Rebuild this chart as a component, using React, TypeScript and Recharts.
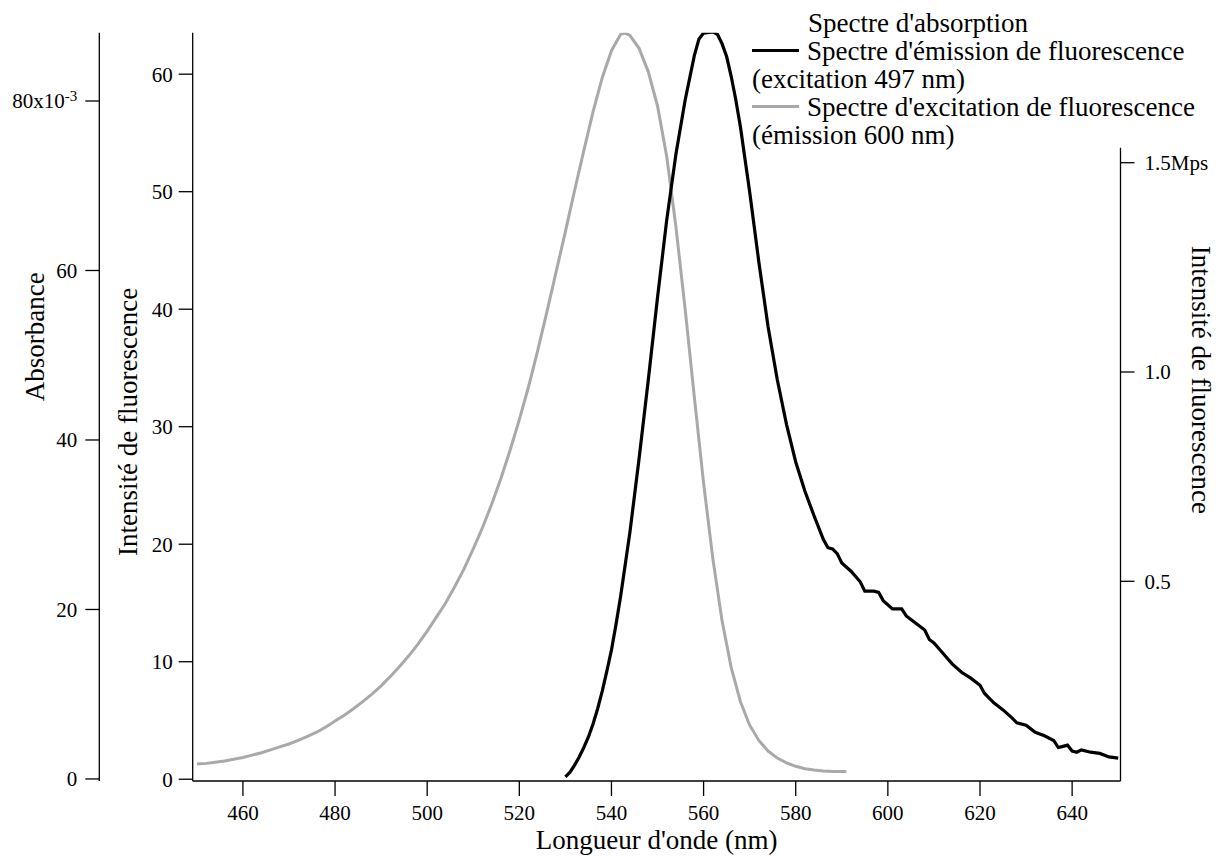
import React from "react";
import { LineChart, Line, XAxis, YAxis, ReferenceLine, Legend } from "recharts";

// excitation spectrum (émission 600 nm) — grey
const excitationNm = [
  450, 452, 454, 456, 458, 460, 462, 464, 466, 468, 470, 472, 474, 476, 478, 480,
  482, 484, 486, 488, 490, 492, 494, 496, 498, 500, 502, 504, 506, 508, 510, 512,
  514, 516, 518, 520, 522, 524, 526, 528, 530, 532, 534, 536, 538, 540, 542, 543,
  544, 546, 548, 550, 552, 554, 556, 558, 560, 562, 564, 566, 568, 570, 572, 574,
  576, 578, 580, 582, 584, 586, 588, 590, 591,
];
const excitationVal = [
  1.3, 1.35, 1.45, 1.55, 1.7, 1.85, 2.05, 2.25, 2.5, 2.75, 3.0, 3.3, 3.65, 4.0, 4.45, 4.95,
  5.45, 6.0, 6.6, 7.25, 7.95, 8.75, 9.6, 10.5, 11.5, 12.6, 13.8, 15.0, 16.4, 17.9, 19.6, 21.4,
  23.4, 25.6, 28.0, 30.6, 33.4, 36.5, 39.8, 43.2, 46.6, 50.1, 53.5, 56.8, 59.7, 62.0, 63.4, 63.5,
  63.3, 62.2, 60.2, 57.3, 53.0, 47.0, 40.0, 32.5, 25.2, 18.8, 13.5, 9.5, 6.6, 4.6, 3.3, 2.4,
  1.8, 1.4, 1.1, 0.9, 0.78, 0.7, 0.65, 0.65, 0.65,
];

// emission spectrum (excitation 497 nm) — black
const emissionNm = [
  530, 531, 532, 533, 534, 535, 536, 537, 538, 539, 540, 541, 542, 544, 546, 548,
  550, 552, 554, 556, 558, 559, 560, 562, 563, 564, 565, 566, 567, 568, 570, 572,
  574, 576, 578, 580, 582, 584, 586, 587, 588, 589, 590, 592, 594, 595, 597, 598,
  599, 601, 603, 604, 606, 608, 609, 610, 612, 614, 616, 618, 620, 621, 623, 625,
  627, 628, 630, 632, 634, 636, 637, 638, 639, 640, 641, 642, 644, 646, 648, 650,
];
const emissionVal = [
  0.2, 0.6, 1.2, 1.9, 2.7, 3.6, 4.7, 6.0, 7.5, 9.2, 11.0, 13.2, 15.6, 21.0, 27.3, 34.0,
  41.0, 47.6, 53.2, 57.8, 61.6, 63.0, 63.5, 63.6, 63.4, 62.6, 61.5, 59.8, 57.8, 55.5, 50.0, 44.0,
  38.5, 34.0, 30.2, 27.0, 24.5, 22.4, 20.4, 19.7, 19.6, 19.2, 18.4, 17.7, 16.8, 16.0, 16.0, 15.9,
  15.2, 14.5, 14.5, 13.9, 13.3, 12.7, 11.9, 11.6, 10.7, 9.8, 9.1, 8.6, 8.0, 7.3, 6.5, 5.9,
  5.2, 4.8, 4.6, 4.0, 3.7, 3.3, 2.7, 2.8, 2.9, 2.4, 2.3, 2.5, 2.3, 2.2, 1.9, 1.8,
];

const xTicks = [460, 480, 500, 520, 540, 560, 580, 600, 620, 640];
const fluoTicks = [0, 10, 20, 30, 40, 50, 60];
const absTicks = [0, 0.02, 0.04, 0.06, 0.08];
const rightTicks = [0.5, 1.0, 1.5];

const X_DOMAIN = [449.1, 650.5];
const FLUO_DOMAIN = [-0.15, 63.53];
const ABS_DOMAIN = [-0.00024, 0.08806];
const RIGHT_DOMAIN = [0.0229, 1.8106];
const RIGHT_AXIS_TOP = 1.536;

const excitation = excitationNm.map((nm, i) => ({ nm, v: excitationVal[i] }));
const emission = emissionNm.map((nm, i) => ({ nm, v: emissionVal[i] }));

const FONT = "'Liberation Serif', 'Times New Roman', serif";
const GREY = "#a9a9a9";
const AXIS = { stroke: "#000", strokeWidth: 1.3 };
const TICK_FONT = 21;
const TITLE_FONT = 27;

function AbsTick(props: any) {
  const { x, y, payload } = props;
  const v = Math.round(payload.value * 1000);
  return (
    <text x={x} y={y} dy="0.355em" textAnchor="end" fontSize={TICK_FONT} fill="#000" fontFamily={FONT}>
      {v === 80 ? (
        <>
          80x10<tspan dy="-0.5em" fontSize={15}>-3</tspan>
        </>
      ) : (
        v
      )}
    </text>
  );
}

function YTitle({ viewBox, text, dx, dy, angle }: any) {
  const cx = viewBox.x + dx;
  const cy = viewBox.y + viewBox.height / 2 + dy;
  return (
    <text
      x={cx}
      y={cy}
      textAnchor="middle"
      dominantBaseline="central"
      fontSize={TITLE_FONT}
      fontFamily={FONT}
      fill="#000"
      transform={`rotate(${angle} ${cx} ${cy})`}
    >
      {text}
    </text>
  );
}

function LegendBox() {
  const sym = (c: string) => (
    <span
      style={{
        display: "inline-block",
        width: 47,
        height: 3,
        background: c,
        verticalAlign: "middle",
        marginRight: 8,
        position: "relative",
        top: -3,
      }}
    />
  );
  return (
    <div style={{ fontFamily: FONT, fontSize: 27, lineHeight: "28px", color: "#000", whiteSpace: "nowrap" }}>
      <div style={{ paddingLeft: 56 }}>Spectre d'absorption</div>
      <div>{sym("#000")}Spectre d'émission de fluorescence</div>
      <div>(excitation 497 nm)</div>
      <div>{sym(GREY)}Spectre d'excitation de fluorescence</div>
      <div>(émission 600 nm)</div>
    </div>
  );
}

export default function App() {
  return (
    <div style={{ position: "absolute", left: 0, top: 0, width: 1224, height: 856, background: "#fff" }}>
      <LineChart
        width={1224}
        height={856}
        margin={{ top: 32.7, right: 0, bottom: 0, left: 0 }}
        style={{ fontFamily: FONT }}
      >
        <XAxis
          type="number"
          dataKey="nm"
          domain={X_DOMAIN}
          allowDataOverflow
          ticks={xTicks}
          height={75}
          tickSize={15}
          tickMargin={9}
          axisLine={AXIS}
          tickLine={AXIS}
          tick={{ fill: "#000", fontSize: TICK_FONT, fontFamily: FONT }}
          label={{
            value: "Longueur d'onde (nm)",
            position: "insideBottom",
            offset: 7,
            fill: "#000",
            fontSize: TITLE_FONT,
            fontFamily: FONT,
          }}
        />
        {/* inner left axis: fluorescence intensity */}
        <YAxis
          yAxisId="yInner"
          type="number"
          domain={FLUO_DOMAIN}
          allowDataOverflow
          ticks={fluoTicks}
          width={93.4}
          tickSize={14}
          tickMargin={6}
          axisLine={AXIS}
          tickLine={AXIS}
          tick={{ fill: "#000", fontSize: TICK_FONT, fontFamily: FONT }}
          label={(p: any) => (
            <YTitle viewBox={p.viewBox} text="Intensité de fluorescence" dx={28.7} dy={15} angle={-90} />
          )}
        />
        {/* outer left axis: absorbance */}
        <YAxis
          yAxisId="yOuter"
          type="number"
          domain={ABS_DOMAIN}
          allowDataOverflow
          ticks={absTicks}
          width={99.3}
          tickSize={14}
          tickMargin={8}
          axisLine={AXIS}
          tickLine={AXIS}
          tick={<AbsTick />}
          label={(p: any) => <YTitle viewBox={p.viewBox} text="Absorbance" dx={35} dy={-70} angle={-90} />}
        />
        <YAxis
          yAxisId="yRight"
          orientation="right"
          type="number"
          domain={RIGHT_DOMAIN}
          allowDataOverflow
          ticks={rightTicks}
          width={103.5}
          tickSize={14}
          tickMargin={10}
          axisLine={false}
          tickLine={AXIS}
          tick={{ fill: "#000", fontSize: TICK_FONT, fontFamily: FONT }}
          tickFormatter={(v: number) => (v === 1.5 ? "1.5Mps" : v.toFixed(1))}
          label={(p: any) => (
            <YTitle viewBox={p.viewBox} text="Intensité de fluorescence" dx={80} dy={-27} angle={90} />
          )}
        />
        <ReferenceLine
          yAxisId="yRight"
          segment={[
            { x: X_DOMAIN[1], y: RIGHT_DOMAIN[0] },
            { x: X_DOMAIN[1], y: RIGHT_AXIS_TOP },
          ]}
          stroke="#000"
          strokeWidth={1.3}
          ifOverflow="visible"
        />
        <Legend
          layout="horizontal"
          verticalAlign="middle"
          align="center"
          content={() => <LegendBox />}
          wrapperStyle={{ position: "absolute", left: 752, top: 9, width: 470, height: 145, margin: 0 }}
        />
        <Line
          yAxisId="yInner"
          data={excitation}
          dataKey="v"
          type="linear"
          stroke={GREY}
          strokeWidth={3}
          dot={false}
          activeDot={false}
          isAnimationActive={false}
        />
        <Line
          yAxisId="yInner"
          data={emission}
          dataKey="v"
          type="linear"
          stroke="#000"
          strokeWidth={3.2}
          dot={false}
          activeDot={false}
          isAnimationActive={false}
        />
      </LineChart>
    </div>
  );
}
